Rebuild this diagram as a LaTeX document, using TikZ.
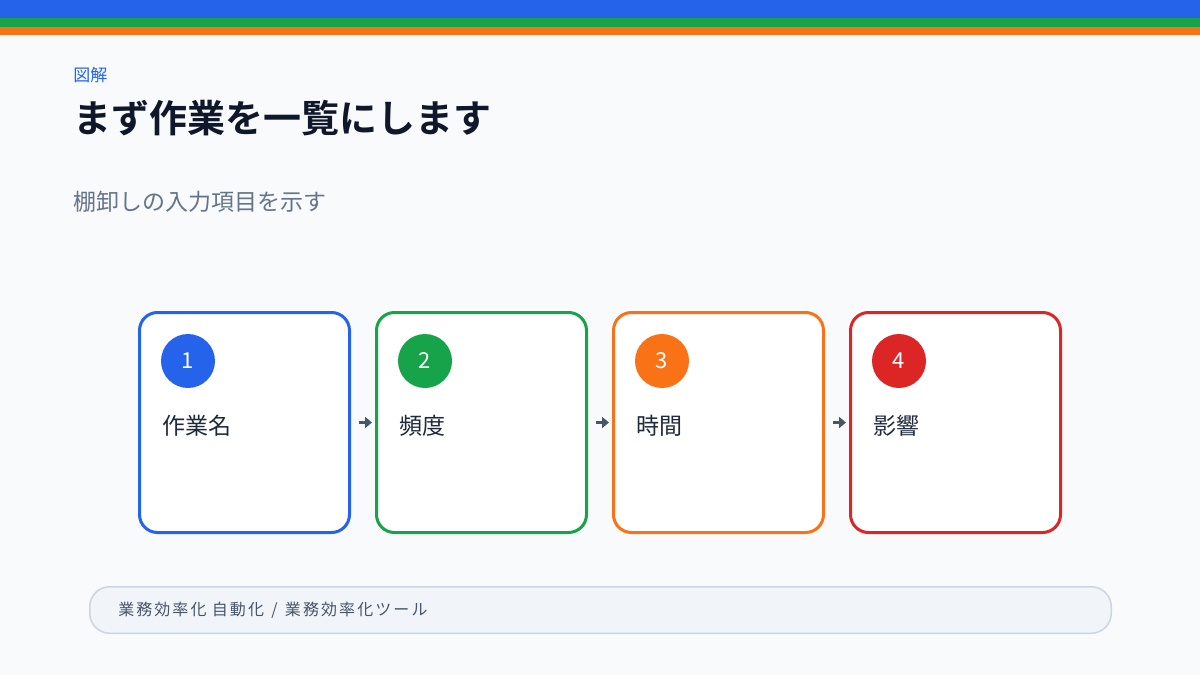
\documentclass[tikz,border=0pt]{standalone}
\usepackage{fontspec}
\setmainfont{Noto Sans CJK JP}[BoldFont={Noto Sans CJK JP Bold}]
\usetikzlibrary{positioning,calc,arrows.meta}

\definecolor{pageBg}{HTML}{F8FAFC}
\definecolor{inkDark}{HTML}{0F172A}
\definecolor{inkCard}{HTML}{1E293B}
\definecolor{inkSub}{HTML}{64748B}
\definecolor{inkFoot}{HTML}{475569}
\definecolor{footFill}{HTML}{F1F5F9}
\definecolor{footLine}{HTML}{CBD5E1}
\definecolor{stBlue}{HTML}{2563EB}
\definecolor{stGreen}{HTML}{16A34A}
\definecolor{stOrange}{HTML}{F97316}
\definecolor{stRed}{HTML}{DC2626}

\tikzset{every picture/.style={line width=0.75pt}}
\tikzset{
  card/.style={draw=#1,line width=3pt,fill=white,rounded corners=18pt,
    minimum width=210pt,minimum height=220pt,inner sep=0pt},
  num/.style={circle,fill=#1,text=white,minimum size=54pt,inner sep=0pt,
    font=\fontsize{22}{26}\selectfont},
  lbl/.style={anchor=west,inner sep=0pt,text=inkCard,
    font=\fontsize{23}{27}\selectfont},
  flow/.style={draw=inkFoot,line width=2.5pt,-{Triangle[length=7pt,width=11pt]},
    shorten <=8pt,shorten >=3pt},
}

\begin{document}
\begin{tikzpicture}[x=1pt,y=-1pt]
			\useasboundingbox (0,0) rectangle (1200,675);
			\fill[pageBg] (0,0) rectangle (1200,675);
			% top bands
			\fill[stBlue] (0,0) rectangle (1200,18);
			\fill[stGreen] (0,18) rectangle (1200,27);
			\fill[stOrange] (0,27) rectangle (1200,35);

			\node [anchor=west,inner sep=0pt,text=stBlue,font=\fontsize{17}{20}\selectfont] (eyebrow) at (73,75) {図解};
			\node [anchor=west,inner sep=0pt,text=inkDark,font=\fontsize{38}{44}\selectfont\bfseries] (title) at (73,118) {まず作業を一覧にします};
			\node [anchor=west,inner sep=0pt,text=inkSub,font=\fontsize{23}{26}\selectfont] (subtitle) at (73,202) {棚卸しの入力項目を示す};

			% cards
			\node [card=stBlue] (c1) at (244.5,422.5) {};
			\node [card=stGreen,right=24pt of c1] (c2) {};
			\node [card=stOrange,right=24pt of c2] (c3) {};
			\node [card=stRed,right=24pt of c3] (c4) {};

			\node [num=stBlue] (n1) at ($(c1.north west)+(50pt,-50pt)$) {1};
			\node [num=stGreen] (n2) at ($(c2.north west)+(50pt,-50pt)$) {2};
			\node [num=stOrange] (n3) at ($(c3.north west)+(50pt,-50pt)$) {3};
			\node [num=stRed] (n4) at ($(c4.north west)+(50pt,-50pt)$) {4};

			\node [lbl] (l1) at ($(c1.west)+(24pt,-3.5pt)$) {作業名};
			\node [lbl] (l2) at ($(c2.west)+(24pt,-3.5pt)$) {頻度};
			\node [lbl] (l3) at ($(c3.west)+(24pt,-3.5pt)$) {時間};
			\node [lbl] (l4) at ($(c4.west)+(24pt,-3.5pt)$) {影響};

			\draw [flow] (c1.east) -- (c2.west);
			\draw [flow] (c2.east) -- (c3.west);
			\draw [flow] (c3.east) -- (c4.west);

			% footer
			\node [draw=footLine,fill=footFill,line width=1.5pt,rounded corners=20pt,
				minimum width=1021.5pt,minimum height=46.5pt,text width=964.5pt,inner xsep=28.5pt,
				align=left,text=inkFoot,font=\fontsize{16}{20}\selectfont\addfontfeatures{LetterSpace=13}] (footer) at (600.5,610)
				{業務効率化 自動化\hspace{2pt} / \hspace{2pt}業務効率化ツール};
		\end{tikzpicture}
\end{document}
